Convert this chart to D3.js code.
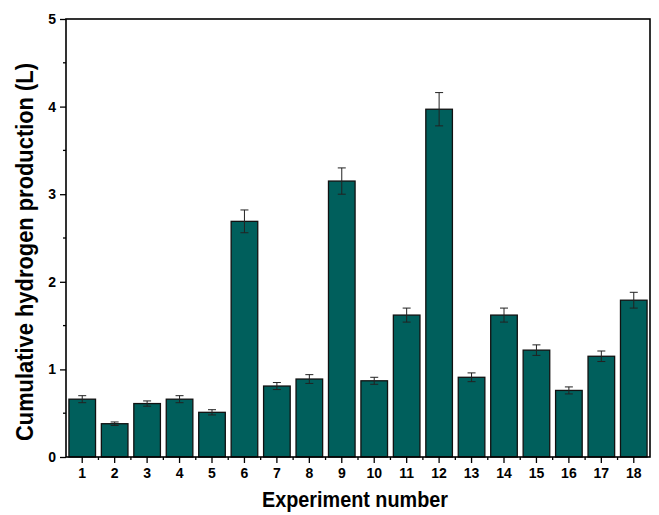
<!DOCTYPE html>
<html>
<head>
<meta charset="utf-8">
<script src="https://cdn.jsdelivr.net/npm/d3@7"></script>
<style>
  body { margin: 0; background: #fff; }
  svg { display: block; font-family: Arial, "Liberation Sans", sans-serif; }
</style>
</head>
<body>
<svg id="chart" width="659" height="515"></svg>
<script>
// data
var experiments = ["1","2","3","4","5","6","7","8","9","10","11","12","13","14","15","16","17","18"];
var hydrogen = [0.66, 0.38, 0.61, 0.66, 0.51, 2.69, 0.81, 0.89, 3.15, 0.87, 1.62, 3.97, 0.91, 1.62, 1.22, 0.76, 1.15, 1.79];
var errors = [0.04, 0.02, 0.03, 0.04, 0.03, 0.13, 0.04, 0.05, 0.15, 0.04, 0.08, 0.19, 0.05, 0.08, 0.06, 0.04, 0.06, 0.09];
var yTicks = [0, 1, 2, 3, 4, 5];
var yMinor = [0.5, 1.5, 2.5, 3.5, 4.5];

var width = 659, height = 515,
  margin = {top: 19, right: 9, bottom: 58, left: 66};

var svg = d3.select('#chart');
var data = experiments.map(function(d, i) {
  return {name: d, value: hydrogen[i], err: errors[i]};
});

var xScale = d3.scaleBand()
  .domain(experiments)
  .range([margin.left, width - margin.right])
  .paddingInner(0.18)
  .paddingOuter(0.09);
var yScale = d3.scaleLinear()
  .domain([0, 5])
  .range([height - margin.bottom, margin.top]);

var step = xScale.step();

// bars
svg.append('g').selectAll('rect')
  .data(data)
  .enter()
  .append('rect')
    .attr('x', function(d) { return xScale(d.name); })
    .attr('y', function(d) { return yScale(d.value); })
    .attr('width', xScale.bandwidth())
    .attr('height', function(d) { return yScale(0) - yScale(d.value); })
    .style('fill', '#005f5c')
    .attr('stroke', '#111')
    .style('stroke-width', '1.3px');

// error bars
var errG = svg.append('g')
  .attr('stroke', '#222')
  .style('stroke-width', '1px');
data.forEach(function(d) {
  var cx = xScale(d.name) + xScale.bandwidth() / 2;
  var y1 = yScale(d.value + d.err), y2 = yScale(d.value - d.err);
  errG.append('line').attr('x1', cx).attr('x2', cx).attr('y1', y1).attr('y2', y2);
  errG.append('line').attr('x1', cx - 4).attr('x2', cx + 4).attr('y1', y1).attr('y2', y1);
  errG.append('line').attr('x1', cx - 4).attr('x2', cx + 4).attr('y1', y2).attr('y2', y2);
});

// frame
svg.append('rect')
  .attr('x', margin.left)
  .attr('y', margin.top)
  .attr('width', width - margin.left - margin.right)
  .attr('height', height - margin.top - margin.bottom)
  .style('fill', 'none')
  .attr('stroke', '#000')
  .style('stroke-width', '1.6px');

// x axis
var xAxis = d3.axisBottom(xScale).tickSize(6).tickPadding(5);
var gX = svg.append('g')
  .attr('transform', 'translate(0,' + (height - margin.bottom) + ')')
  .call(xAxis);
gX.select('.domain').remove();
gX.selectAll('line').style('stroke-width', '1.3px');
gX.selectAll('text')
  .attr('font-size', 14)
  .attr('font-weight', 'bold')
  .attr('fill', '#000');

// minor x ticks between bars
var xMinor = experiments.slice(1).map(function(d) { return xScale(d) - step * xScale.paddingInner() / 2; });
svg.append('g').selectAll('line')
  .data(xMinor)
  .enter()
  .append('line')
    .attr('x1', function(d) { return d; })
    .attr('x2', function(d) { return d; })
    .attr('y1', height - margin.bottom)
    .attr('y2', height - margin.bottom + 3)
    .attr('stroke', '#000')
    .style('stroke-width', '1.3px');

// y axis
var yAxis = d3.axisLeft(yScale).tickValues(yTicks).tickSize(6).tickPadding(4).tickFormat(d3.format('d'));
var gY = svg.append('g')
  .attr('transform', 'translate(' + margin.left + ',0)')
  .call(yAxis);
gY.select('.domain').remove();
gY.selectAll('line').style('stroke-width', '1.3px');
gY.selectAll('text')
  .attr('font-size', 14)
  .attr('font-weight', 'bold')
  .attr('fill', '#000');

svg.append('g').selectAll('line')
  .data(yMinor)
  .enter()
  .append('line')
    .attr('x1', margin.left - 3)
    .attr('x2', margin.left)
    .attr('y1', function(d) { return yScale(d); })
    .attr('y2', function(d) { return yScale(d); })
    .attr('stroke', '#000')
    .style('stroke-width', '1.3px');

// axis titles
svg.append('text')
  .attr('x', 355)
  .attr('y', 507)
  .attr('text-anchor', 'middle')
  .attr('font-size', 22)
  .attr('font-weight', 'bold')
  .attr('textLength', 186)
  .attr('lengthAdjust', 'spacingAndGlyphs')
  .text('Experiment number');

svg.append('text')
  .attr('transform', 'rotate(-90)')
  .attr('x', -252)
  .attr('y', 33)
  .attr('text-anchor', 'middle')
  .attr('font-size', 23)
  .attr('font-weight', 'bold')
  .attr('textLength', 378)
  .attr('lengthAdjust', 'spacingAndGlyphs')
  .text('Cumulative hydrogen production (L)');
</script>
</body>
</html>
